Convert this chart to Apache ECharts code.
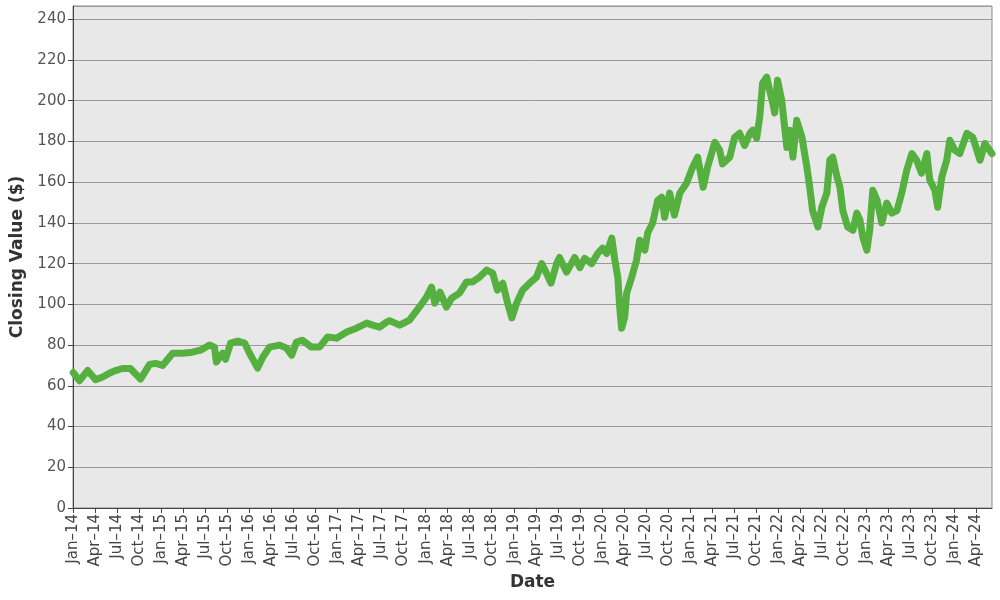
<!DOCTYPE html>
<html>
<head>
<meta charset="utf-8">
<script src="https://cdn.jsdelivr.net/npm/echarts@6/dist/echarts.min.js"></script>
<style>html,body{margin:0;padding:0;background:#fff}#c{width:1000px;height:600px}</style>
</head>
<body>
<div id="c"></div>
<script>
const monthNames = ['Jan','Feb','Mar','Apr','May','Jun','Jul','Aug','Sep','Oct','Nov','Dec'];
const yTicks = [0,20,40,60,80,100,120,140,160,180,200,220,240];
const dates = [
'2014-01-02','2014-01-28','2014-03-01','2014-04-03','2014-05-02','2014-06-01','2014-06-25','2014-07-23','2014-08-26','2014-10-07',
'2014-11-14','2014-12-08','2015-01-07','2015-02-17','2015-03-28','2015-05-09','2015-06-12','2015-07-19','2015-08-09','2015-08-17',
'2015-09-12','2015-09-24','2015-10-15','2015-11-14','2015-12-12','2016-01-02','2016-02-05','2016-02-25','2016-03-24','2016-05-05',
'2016-06-03','2016-06-24','2016-07-14','2016-08-08','2016-09-15','2016-10-18','2016-11-21','2016-12-28','2017-02-08','2017-03-19',
'2017-05-01','2017-05-25','2017-06-23','2017-07-22','2017-08-04','2017-09-15','2017-10-26','2017-12-06','2018-01-05','2018-01-26',
'2018-02-08','2018-02-28','2018-03-27','2018-04-17','2018-05-20','2018-06-18','2018-07-13','2018-08-12','2018-09-10','2018-10-05',
'2018-10-25','2018-11-16','2018-12-06','2018-12-24','2019-01-13','2019-02-07','2019-03-06','2019-04-04','2019-04-25','2019-05-15',
'2019-06-03','2019-06-26','2019-07-08','2019-08-07','2019-09-10','2019-10-01','2019-10-21','2019-11-19','2019-12-14','2020-01-04',
'2020-01-21','2020-02-11','2020-02-23','2020-03-06','2020-03-14','2020-03-22','2020-04-04','2020-04-12','2020-05-03','2020-05-23',
'2020-06-05','2020-06-26','2020-07-08','2020-07-29','2020-08-19','2020-09-05','2020-09-17','2020-10-08','2020-10-28','2020-11-19',
'2020-12-17','2021-01-12','2021-02-02','2021-02-23','2021-03-13','2021-04-12','2021-05-02','2021-05-14','2021-06-13','2021-07-03',
'2021-07-24','2021-08-14','2021-09-05','2021-09-17','2021-10-03','2021-10-16','2021-10-28','2021-11-14','2021-11-26','2021-12-09',
'2021-12-17','2021-12-29','2022-01-16','2022-01-28','2022-02-06','2022-02-18','2022-03-01','2022-03-17','2022-04-08','2022-04-28',
'2022-05-10','2022-05-22','2022-06-13','2022-06-29','2022-07-20','2022-08-02','2022-08-14','2022-09-01','2022-09-13','2022-09-25',
'2022-10-15','2022-11-06','2022-11-22','2022-12-05','2022-12-17','2023-01-03','2023-01-15','2023-01-28','2023-02-14','2023-03-04',
'2023-03-25','2023-04-15','2023-05-06','2023-05-26','2023-06-16','2023-07-07','2023-07-27','2023-08-17','2023-09-08','2023-09-20',
'2023-10-11','2023-10-23','2023-11-09','2023-11-29','2023-12-12','2024-01-02','2024-01-23','2024-02-21','2024-03-16','2024-04-15',
'2024-05-05','2024-06-04'
];
const closes = [
66.5,62.5,67.5,63,64.3,66.3,67.5,68.5,68.5,63.3,
70.5,71,70,76,76,76.5,77.5,80,79,71.7,
76,73,81,82,81,76,68.7,74,79,80,
78.5,75,81.5,82.4,79,79,84,83.4,86.4,88.3,
90.8,89.8,88.8,91.3,92,89.8,92.3,98.7,103.6,108.5,
100.6,106,98.7,103,105.5,111,111,113.4,116.8,115.3,
107,110.4,100.6,93.3,100.6,107,110.4,113.4,120,115.3,
110.4,120,123,115.8,123,118,122.6,120,125,127.6,
125,132.5,121.7,113.4,98.7,88.3,93.7,105.5,113.4,121.7,
131.5,126.6,135,140,151,152.6,142.8,154.6,143.8,154.6,
159.5,167.4,172.3,157.5,167.4,179.6,175.7,169,172.3,182,
184,178,184,185.5,181.6,192,208.6,211.6,205,198.8,
194,210,200,187,177,185.5,172.3,190.4,182,167.4,
157.5,146,138,147.7,154.6,171,172.3,162.5,157.5,146,
138,136.4,144.8,141.3,133,126.6,136.4,156,151,140,
149.7,144.8,146,154.6,166,174,170.8,164.4,174,161,
156,147.7,162.5,170.8,180.6,175.7,174,184,182,170.8,
179,174
];

function monthIndex(s){
  const [y,m,d] = s.split('-').map(Number);
  const dim = new Date(y, m, 0).getDate();
  return (y-2014)*12 + (m-1) + (d-1)/dim;
}
const seriesData = dates.map((d,i)=>[monthIndex(d), closes[i]]);
const xMax = monthIndex('2024-06-04');

const chart = echarts.init(document.getElementById('c'), null, {renderer:'canvas'});
chart.setOption({
  animation:false,
  backgroundColor:'#ffffff',
  grid:{left:73,right:8,top:6,bottom:92,show:true,backgroundColor:'#e8e8e8',borderColor:'#8c8c8c',borderWidth:1},
  xAxis:{
    type:'value', min:0, max:xMax, interval:3,
    name:'Date', nameLocation:'middle', nameGap:66,
    nameTextStyle:{fontFamily:'DejaVu Sans',fontSize:17,fontWeight:'bold',color:'#333'},
    axisLine:{show:true,lineStyle:{color:'#444',width:1}},
    axisTick:{show:true,length:5,lineStyle:{color:'#444'}},
    splitLine:{show:false},
    axisLabel:{
      rotate:90, fontFamily:'DejaVu Sans', fontSize:15, color:'#444', margin:6,
      showMaxLabel:false,
      formatter:function(v){
        const r = Math.round(v);
        if (Math.abs(v-r)>1e-6 || r%3!==0) return '';
        const y = 14 + Math.floor(r/12);
        return monthNames[r%12] + '\u2013' + y;
      }
    }
  },
  yAxis:{
    type:'value', min:0, max:246.5, interval:20,
    name:'Closing Value ($)', nameLocation:'middle', nameGap:42,
    nameTextStyle:{fontFamily:'DejaVu Sans',fontSize:17,fontWeight:'bold',color:'#333'},
    axisLine:{show:true,lineStyle:{color:'#444',width:1}},
    axisTick:{show:true,length:5,lineStyle:{color:'#444'}},
    splitLine:{show:true,lineStyle:{color:'#999',width:1}},
    axisLabel:{
      fontFamily:'DejaVu Sans', fontSize:15, color:'#555', margin:7,
      showMaxLabel:false,
      formatter:function(v){ return yTicks.indexOf(v)>=0 ? String(v) : ''; }
    }
  },
  series:[{
    type:'line', data:seriesData, showSymbol:false,
    lineStyle:{color:'#55b03f',width:7,join:'round',cap:'round'},
    itemStyle:{color:'#55b03f'}
  }]
});
</script>
</body>
</html>
